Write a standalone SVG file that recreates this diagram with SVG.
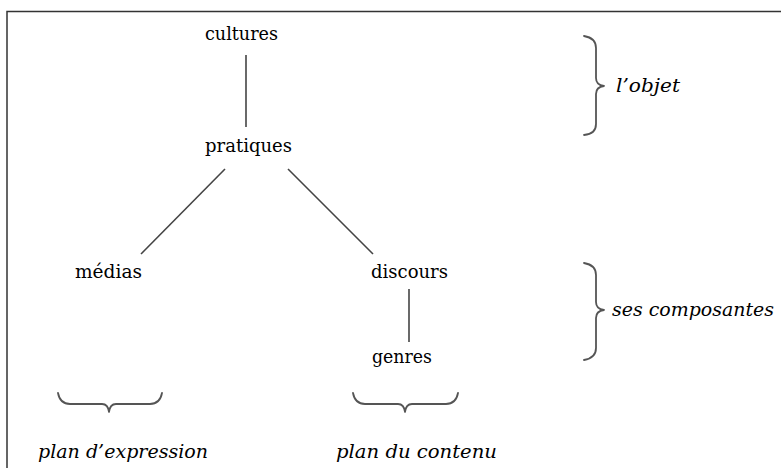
<svg xmlns="http://www.w3.org/2000/svg" width="781" height="468" viewBox="0 0 781 468">
<style>
.t{font-family:"DejaVu Serif","Liberation Serif",serif;font-size:18px;fill:#000}
.i{font-family:"DejaVu Serif","Liberation Serif",serif;font-size:18px;font-style:italic;fill:#000}
.c{stroke:#444;stroke-width:1.6;fill:none}
.b{stroke:#555;stroke-width:1.8;fill:none;stroke-linecap:round;stroke-linejoin:round}
</style>
<rect x="0" y="0" width="781" height="468" fill="#fff"/>
<path d="M7 480 V11.5 H790" fill="none" stroke="#333" stroke-width="1.5"/>
<g id="connectors">
<line class="c" x1="246" y1="55" x2="246" y2="127"/>
<line class="c" x1="225" y1="169" x2="141" y2="254"/>
<line class="c" x1="288" y1="169" x2="373" y2="254"/>
<line class="c" x1="409" y1="289" x2="409" y2="342"/>
</g>
<g id="cultures"><text class="t" x="205" y="40" textLength="73" lengthAdjust="spacingAndGlyphs">cultures</text></g>
<g id="pratiques"><text class="t" x="205" y="152" textLength="87" lengthAdjust="spacingAndGlyphs">pratiques</text></g>
<g id="medias"><text class="t" x="75" y="278" textLength="67" lengthAdjust="spacingAndGlyphs">médias</text></g>
<g id="discours"><text class="t" x="371" y="278" textLength="77" lengthAdjust="spacingAndGlyphs">discours</text></g>
<g id="genres"><text class="t" x="372" y="363" textLength="60" lengthAdjust="spacingAndGlyphs">genres</text></g>
<g id="brace-objet">
<path class="b" d="M584 36 Q596 38 596 48 V78 Q596 85 604 86 Q596 87 596 94 V124 Q596 134 584 135"/>
<text class="i" x="616" y="92" textLength="64" lengthAdjust="spacingAndGlyphs">l’objet</text>
</g>
<g id="brace-composantes">
<path class="b" d="M584 263 Q596 265 596 275 V302 Q596 309 604 310 Q596 311 596 318 V348 Q596 358 584 360"/>
<text class="i" x="612" y="316" textLength="162" lengthAdjust="spacingAndGlyphs">ses composantes</text>
</g>
<g id="brace-expression">
<path class="b" d="M58 393 Q60 404 70 404 H102 Q108 404 109 412 Q110 404 116 404 H150 Q160 404 162 393"/>
<text class="i" x="38" y="458" textLength="170" lengthAdjust="spacingAndGlyphs">plan d’expression</text>
</g>
<g id="brace-contenu">
<path class="b" d="M353 393 Q355 404 365 404 H398 Q404 404 405 412 Q406 404 412 404 H446 Q456 404 458 393"/>
<text class="i" x="336" y="458" textLength="161" lengthAdjust="spacingAndGlyphs">plan du contenu</text>
</g>
</svg>
